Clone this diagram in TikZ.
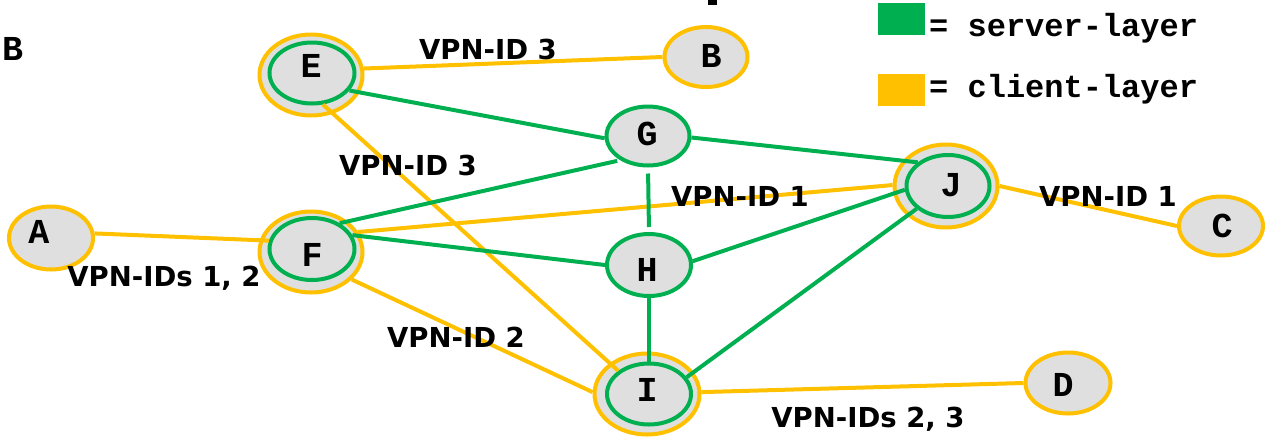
\documentclass[tikz,border=0pt]{standalone}
\usepackage{fontspec}
\usetikzlibrary{shapes.geometric}
\newfontfamily\monofont{Liberation Mono}
\newfontfamily\idfont{DejaVu Sans}
\definecolor{srvgreen}{HTML}{00B050}
\definecolor{clyellow}{HTML}{FFC000}
\definecolor{nodegray}{HTML}{DFDFDF}
\newcommand{\w}{4pt}

\begin{document}
\begin{tikzpicture}[x=1pt, y=-1pt,
    client/.style={ellipse, draw=clyellow, line width=\w, fill=nodegray, inner sep=0pt},
    server/.style={ellipse, draw=srvgreen, line width=\w, fill=nodegray, inner sep=0pt},
    cedge/.style={draw=clyellow, line width=4pt},
    sedge/.style={draw=srvgreen, line width=4pt},
    letter/.style={font=\fontsize{35}{35}\selectfont\monofont\bfseries, inner sep=0pt},
    vpn/.style={font=\fontsize{27.5}{27.5}\selectfont\idfont\bfseries, inner sep=0pt, anchor=base},
    key/.style={font=\fontsize{32}{32}\selectfont\monofont\bfseries, inner sep=0pt, anchor=base west}]
    \useasboundingbox (0,0) rectangle (1268,440);

    % client-layer only
    \node[client, minimum width=84, minimum height=63] (A) at (51,238) {};
    \node[client, minimum width=83, minimum height=60] (B) at (706,57) {};
    \node[client, minimum width=84, minimum height=59] (C) at (1221,226) {};
    \node[client, minimum width=85, minimum height=61] (D) at (1068,383) {};

    % server-layer only
    \node[server, minimum width=83, minimum height=59] (G) at (648,136) {};
    \node[server, minimum width=84, minimum height=62] (H) at (649,265) {};

    % both layers
    \node[client, minimum width=103, minimum height=81] (E-out) at (311,75) {};
    \node[server, minimum width=85, minimum height=61] (E-in) at (312,73) {};
    \node[client, minimum width=103, minimum height=81] (F-out) at (311,252) {};
    \node[server, minimum width=85, minimum height=62] (F-in) at (312,249) {};
    \node[client, minimum width=103, minimum height=83] (J-out) at (946,186) {};
    \node[server, minimum width=83, minimum height=62] (J-in) at (948,186) {};
    \node[client, minimum width=105, minimum height=81] (I-out) at (647,394) {};
    \node[server, minimum width=84, minimum height=61] (I-in) at (649,394) {};

    % client-layer links
    \draw[cedge] (E-out.7) -- (B.180);
    \draw[cedge] (E-in.-71) -- (I-in.143);
    \draw[cedge] (A.6) -- (F-in.169);
    \draw[cedge] (F-out.23) -- (J-out.179);
    \draw[cedge] (F-out.-34) -- (I-out.178);
    \draw[cedge] (J-out.0) -- (C.180);
    \draw[cedge] (I-out.2) -- (D.180);

    % server-layer links
    \draw[sedge] (E-in.-25) -- (G.183);
    \draw[sedge] (G.-2) -- (J-in.142);
    \draw[sedge, shorten <=6pt, shorten >=5pt] (G.south) -- (H.north);
    \draw[sedge, shorten >=3pt] (F-in.43) -- (G.221);
    \draw[sedge] (F-in.19) -- (H.180);
    \draw[sedge] (H.5) -- (J-in.185);
    \draw[sedge] (H.south) -- (I-in.north);
    \draw[sedge] (I-in.24) -- (J-in.216);

    % letters
    \node[letter] (A-txt) at (39,232) {A};
    \node[letter] (B-txt) at (711,56) {B};
    \node[letter] (C-txt) at (1222,226) {C};
    \node[letter] (D-txt) at (1063,385) {D};
    \node[letter] (E-txt) at (311,66) {E};
    \node[letter] (F-txt) at (312,255) {F};
    \node[letter] (G-txt) at (647,134) {G};
    \node[letter] (H-txt) at (647,270) {H};
    \node[letter] (I-txt) at (647,390) {I};
    \node[letter] (J-txt) at (951,185) {J};
    \node[letter, anchor=west] (corner-txt) at (2,49) {B};
    \fill (708,0) rectangle (717,5);

    % VPN labels
    \node[vpn] (id-EB) at (488,59) {VPN-ID 3};
    \node[vpn] (id-EI) at (408,175) {VPN-ID 3};
    \node[vpn] (id-FJ) at (740,206) {VPN-ID 1};
    \node[vpn] (id-JC) at (1108,206) {VPN-ID 1};
    \node[vpn] (id-AF) at (164,286) {VPN-IDs 1, 2};
    \node[vpn] (id-FI) at (456,347) {VPN-ID 2};
    \node[vpn] (id-ID) at (868,427) {VPN-IDs 2, 3};

    % legend
    \node[fill=srvgreen, minimum width=47, minimum height=32, inner sep=0pt] (key-server) at (901.5,19) {};
    \node[fill=clyellow, minimum width=47, minimum height=32, inner sep=0pt] (key-client) at (901.5,90) {};
    \node[key] (key-server-txt) at (929,36) {= server-layer};
    \node[key] (key-client-txt) at (929,97) {= client-layer};
\end{tikzpicture}
\end{document}
